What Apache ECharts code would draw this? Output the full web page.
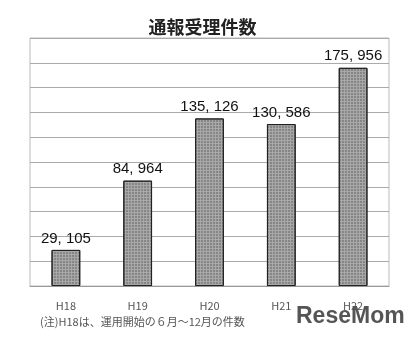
<!DOCTYPE html>
<html><head><meta charset="utf-8">
<script src="https://cdn.jsdelivr.net/npm/echarts@6/dist/echarts.min.js"></script>
<style>html,body{margin:0;padding:0;background:#fff}#c{width:405px;height:340px}</style>
</head><body><div id="c"></div>
<script>
const categories = ['H18','H19','H20','H21','H22'];
const values = [29105, 84964, 135126, 130586, 175956];
const yMax = 200000;
const yInterval = 20000;

const chart = echarts.init(document.getElementById('c'), null, {renderer:'canvas'});
chart.setOption({
  backgroundColor:'#fff',
  animation:false,
  title:{text:'通報受理件数', left:'center', top:13,
    textStyle:{fontFamily:'Noto Sans CJK JP', fontSize:18, fontWeight:'bold', color:'#222'}},
  grid:{left:30, right:16, top:38, bottom:54, show:true, borderColor:'#bbb', borderWidth:1},
  xAxis:{type:'category', data:categories,
    axisLine:{lineStyle:{color:'#999'}}, axisTick:{show:false},
    axisLabel:{margin:14, fontSize:11, color:'#555', fontFamily:'Noto Sans CJK JP'}},
  yAxis:{type:'value', min:0, max:yMax, interval:yInterval,
    axisLabel:{show:false}, axisLine:{show:false}, axisTick:{show:false},
    splitLine:{lineStyle:{color:'#aaa', width:1}}},
  series:[{type:'bar', data:values, barWidth:'40%',
    itemStyle:{color:'#a8a8a8', borderColor:'#222', borderWidth:1,
      decal:{symbol:'circle', symbolSize:0.8, dashArrayX:[2,1], dashArrayY:[2,1], color:'rgba(40,40,40,0.6)', rotation:0}},
    label:{show:true, position:'top', distance:4, fontSize:15, color:'#111',
      fontFamily:'Liberation Sans',
      formatter:p=>p.value.toLocaleString('en-US').replace(',', ', ')}}],
  graphic:[
    {type:'text', left:40, top:316, style:{text:'(注)H18は、運用開始の６月～12月の件数', fontSize:11, fill:'#555', fontFamily:'Noto Sans CJK JP'}},
    {type:'text', left:296, top:305, style:{text:'ReseMom', fontSize:23, fontWeight:'bold', fill:'#555', fontFamily:'Liberation Sans'}}
  ]
});
</script></body></html>
